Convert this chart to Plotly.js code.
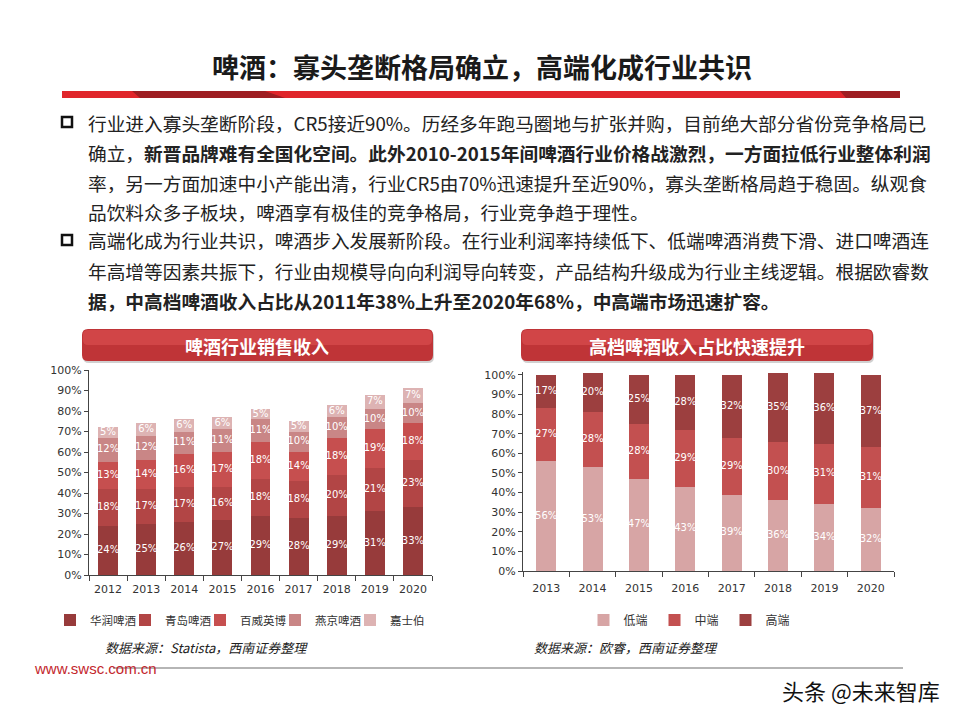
<!DOCTYPE html>
<html>
<head>
<meta charset="utf-8">
<script src="https://cdn.plot.ly/plotly-3.0.1.min.js"></script>
<style>html,body{margin:0;padding:0;background:#fff;}#chart{width:960px;height:720px;}</style>
</head>
<body>
<div id="chart"></div>
<script>
// ---- data ----
const yearsLeft = ['2012','2013','2014','2015','2016','2017','2018','2019','2020'];
const huarun    = [24,25,26,27,29,28,29,31,33];
const tsingtao  = [18,17,17,16,18,18,20,21,23];
const budweiser = [13,14,16,17,18,14,18,19,18];
const yanjing   = [12,12,11,11,11,10,10,10,10];
const carlsberg = [5,6,6,6,5,5,6,7,7];
const leftNames = ['华润啤酒','青岛啤酒','百威英博','燕京啤酒','嘉士伯'];

const yearsRight = ['2013','2014','2015','2016','2017','2018','2019','2020'];
const lowEnd  = [56,53,47,43,39,36,34,32];
const midEnd  = [27,28,28,29,29,30,31,31];
const highEnd = [17,20,25,28,32,35,36,37];
const rightNames = ['低端','中端','高端'];

const mainTitle = '啤酒：寡头垄断格局确立，高端化成行业共识';
const bodyLines = [
  '行业进入寡头垄断阶段，CR5接近90%。历经多年跑马圈地与扩张并购，目前绝大部分省份竞争格局已',
  '确立，<b>新晋品牌难有全国化空间。此外2010-2015年间啤酒行业价格战激烈，一方面拉低行业整体利润</b>',
  '率，另一方面加速中小产能出清，行业CR5由70%迅速提升至近90%，寡头垄断格局趋于稳固。纵观食',
  '品饮料众多子板块，啤酒享有极佳的竞争格局，行业竞争趋于理性。',
  '高端化成为行业共识，啤酒步入发展新阶段。在行业利润率持续低下、低端啤酒消费下滑、进口啤酒连',
  '年高增等因素共振下，行业由规模导向向利润导向转变，产品结构升级成为行业主线逻辑。根据欧睿数',
  '<b>据，中高档啤酒收入占比从2011年38%上升至2020年68%，中高端市场迅速扩容。</b>'
];
const leftChartTitle = '啤酒行业销售收入';
const rightChartTitle = '高档啤酒收入占比快速提升';
const leftSource = '数据来源：Statista，西南证券整理';
const rightSource = '数据来源：欧睿，西南证券整理';
const siteText = 'www.swsc.com.cn';
const watermark = '头条 @未来智库';

// ---- helpers (pixel -> paper) ----
const W = 960, H = 720;
const px = x => x / W;
const py = y => 1 - y / H;
const CJK = '"Noto Sans CJK SC", "Noto Sans", sans-serif';

const leftColors = ['#973b3b','#b24545','#c64f4f','#c98686','#ddb3b3'];
const rightColors = ['#d7a5a5','#c35050','#9c3f3f'];

const traces = [];
function addStack(cats, seriesList, names, colors, xa, ya, legendId, width) {
  const base = cats.map(() => 0);
  seriesList.forEach((vals, i) => {
    traces.push({
      type: 'bar', x: cats, y: vals, name: names[i],
      xaxis: xa, yaxis: ya, legend: legendId,
      width: width,
      marker: {color: colors[i]},
      textposition: 'none',
      hoverinfo: 'skip'
    });
    // value labels placed at the middle of each stacked segment
    const mids = vals.map((v, k) => base[k] + v / 2);
    traces.push({
      type: 'scatter', mode: 'text', x: cats, y: mids,
      text: vals.map(v => v + '%'),
      xaxis: xa, yaxis: ya, showlegend: false, hoverinfo: 'skip',
      textfont: {color: '#ffffff', size: 10, family: 'DejaVu Sans'},
      cliponaxis: false
    });
    vals.forEach((v, k) => { base[k] += v; });
  });
}
addStack(yearsLeft, [huarun, tsingtao, budweiser, yanjing, carlsberg], leftNames, leftColors, 'x', 'y', 'legend', 0.52);
addStack(yearsRight, [lowEnd, midEnd, highEnd], rightNames, rightColors, 'x2', 'y2', 'legend2', 0.43);

const axisCommon = {
  showgrid: false, zeroline: false, showline: true, linecolor: '#444', linewidth: 1,
  ticks: 'outside', tickcolor: '#444', tickfont: {size: 11, color: '#333', family: 'DejaVu Sans'},
  fixedrange: true
};

function roundRectPath(x0, y0, x1, y1, r) {
  const rx = r / W, ry = r / H;
  const X0 = px(x0), X1 = px(x1), Y0 = py(y0), Y1 = py(y1);
  return `M${X0+rx},${Y0} L${X1-rx},${Y0} Q${X1},${Y0} ${X1},${Y0-ry} L${X1},${Y1+ry} Q${X1},${Y1} ${X1-rx},${Y1} L${X0+rx},${Y1} Q${X0},${Y1} ${X0},${Y1+ry} L${X0},${Y0-ry} Q${X0},${Y0} ${X0+rx},${Y0} Z`;
}
function polyPath(pts) {
  return 'M' + pts.map(p => `${px(p[0])},${py(p[1])}`).join(' L') + ' Z';
}

const shapes = [];
// red underline bar with darker segments
shapes.push({type: 'rect', xref: 'paper', yref: 'paper', x0: px(62), x1: px(900), y0: py(98), y1: py(91), fillcolor: '#e0262b', line: {width: 0}, layer: 'above'});
shapes.push({type: 'path', xref: 'paper', yref: 'paper', path: polyPath([[132,91],[265,91],[285,98],[140,98]]), fillcolor: '#9e1e22', line: {width: 0}, layer: 'above'});
shapes.push({type: 'path', xref: 'paper', yref: 'paper', path: polyPath([[840,91],[900,91],[900,98],[846,98]]), fillcolor: '#9e1e22', line: {width: 0}, layer: 'above'});
// bullets
[122, 240].forEach(yc => {
  shapes.push({type: 'rect', xref: 'paper', yref: 'paper', x0: px(62), x1: px(72), y0: py(yc+5), y1: py(yc-5), fillcolor: '#ffffff', line: {color: '#111', width: 2.5}, layer: 'above'});
});
// chart title banners
[[82,433],[521,873]].forEach(([a,b]) => {
  shapes.push({type: 'path', xref: 'paper', yref: 'paper', path: roundRectPath(a+1, 331, b+1, 363, 6), fillcolor: 'rgba(120,120,120,0.35)', line: {width: 0}, layer: 'below'});
  shapes.push({type: 'path', xref: 'paper', yref: 'paper', path: roundRectPath(a, 329, b, 361, 6), fillcolor: '#bf3437', line: {width: 0}, layer: 'below'});
  shapes.push({type: 'path', xref: 'paper', yref: 'paper', path: roundRectPath(a+1, 330, b-1, 345, 5), fillcolor: 'rgba(230,90,90,0.45)', line: {width: 0}, layer: 'below'});
});
// footer line
shapes.push({type: 'line', xref: 'paper', yref: 'paper', x0: px(113), x1: px(903), y0: py(668), y1: py(668), line: {color: '#b5b5b5', width: 2}});

const annotations = [];
annotations.push({xref: 'paper', yref: 'paper', x: px(482), y: py(66), xanchor: 'center', yanchor: 'middle', showarrow: false,
  text: '<b>' + mainTitle + '</b>', font: {family: CJK, size: 27, color: '#1a1a1a'}});
const lineYs = [122, 152, 182, 211, 240, 270, 300];
bodyLines.forEach((t, i) => {
  annotations.push({xref: 'paper', yref: 'paper', x: px(86), y: py(lineYs[i]), xanchor: 'left', yanchor: 'middle', showarrow: false,
    text: t, font: {family: CJK, size: 18.7, color: '#222'}});
});
annotations.push({xref: 'paper', yref: 'paper', x: px(257), y: py(346), xanchor: 'center', yanchor: 'middle', showarrow: false,
  text: '<b>' + leftChartTitle + '</b>', font: {family: CJK, size: 18, color: '#ffffff'}});
annotations.push({xref: 'paper', yref: 'paper', x: px(697), y: py(346), xanchor: 'center', yanchor: 'middle', showarrow: false,
  text: '<b>' + rightChartTitle + '</b>', font: {family: CJK, size: 18, color: '#ffffff'}});
annotations.push({xref: 'paper', yref: 'paper', x: px(103), y: py(647), xanchor: 'left', yanchor: 'middle', showarrow: false,
  text: '<i>' + leftSource + '</i>', font: {family: CJK, size: 13, color: '#222'}});
annotations.push({xref: 'paper', yref: 'paper', x: px(532), y: py(647), xanchor: 'left', yanchor: 'middle', showarrow: false,
  text: '<i>' + rightSource + '</i>', font: {family: CJK, size: 13, color: '#222'}});
annotations.push({xref: 'paper', yref: 'paper', x: px(32), y: py(668), xanchor: 'left', yanchor: 'middle', showarrow: false,
  text: siteText, font: {family: 'Liberation Sans, Arial, sans-serif', size: 15, color: '#c3262c'}});
annotations.push({xref: 'paper', yref: 'paper', x: px(942), y: py(690), xanchor: 'right', yanchor: 'middle', showarrow: false,
  text: watermark, font: {family: CJK, size: 22, color: '#111'}});

const layout = {
  width: W, height: H,
  margin: {l: 0, r: 0, t: 0, b: 0},
  paper_bgcolor: '#ffffff', plot_bgcolor: 'rgba(0,0,0,0)',
  barmode: 'stack',
  showlegend: true,
  xaxis: Object.assign({}, axisCommon, {domain: [px(89), px(432)], anchor: 'y', type: 'category', tickson: 'boundaries', ticklen: 5, ticklabelstandoff: 4, range: [-0.5, 8.5]}),
  yaxis: Object.assign({}, axisCommon, {domain: [py(575), py(370)], anchor: 'x', range: [0, 100], tickmode: 'linear', tick0: 0, dtick: 10, ticksuffix: '%', ticklen: 4}),
  xaxis2: Object.assign({}, axisCommon, {domain: [px(523), px(894)], anchor: 'y2', type: 'category', tickson: 'boundaries', ticklen: 5, ticklabelstandoff: 7, range: [-0.5, 7.5]}),
  yaxis2: Object.assign({}, axisCommon, {domain: [py(571), py(372)], anchor: 'x2', range: [0, 101.5], tickmode: 'linear', tick0: 0, dtick: 10, ticksuffix: '%', ticklen: 4}),
  legend: {orientation: 'h', x: px(50), y: py(620), xanchor: 'left', yanchor: 'middle', traceorder: 'normal',
    font: {family: CJK, size: 11.5, color: '#333'}, itemwidth: 30, entrywidth: 30, entrywidthmode: 'pixels', bgcolor: 'rgba(0,0,0,0)'},
  legend2: {orientation: 'h', x: px(690), y: py(620), xanchor: 'center', yanchor: 'middle', traceorder: 'normal',
    font: {family: CJK, size: 12, color: '#333'}, itemwidth: 30, entrywidth: 26, entrywidthmode: 'pixels', bgcolor: 'rgba(0,0,0,0)'},
  shapes: shapes,
  annotations: annotations
};

Plotly.newPlot('chart', traces, layout, {displayModeBar: false, staticPlot: true});
</script>
</body>
</html>
